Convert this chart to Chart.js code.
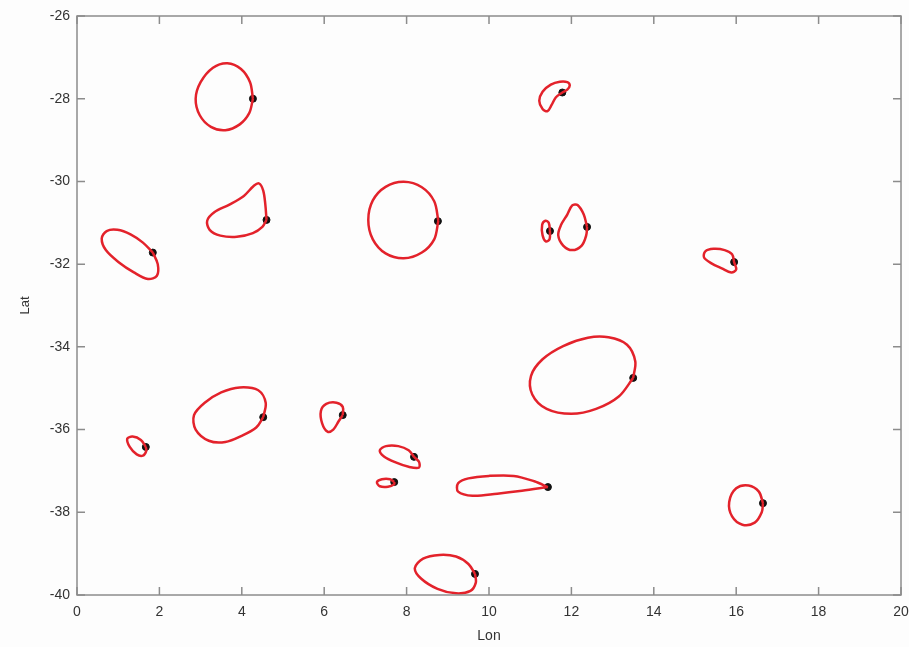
<!DOCTYPE html>
<html>
<head>
<meta charset="utf-8">
<script src="https://cdn.jsdelivr.net/npm/chart.js@4/dist/chart.umd.min.js"></script>
<style>
    html, body { margin: 0; padding: 0; background: #fdfdfd; }
    #wrap { width: 909px; height: 647px; }
</style>
</head>
<body>
<div id="wrap"><canvas id="loopChart"></canvas></div>
<script>
// tick values
const lonTicks = [0, 2, 4, 6, 8, 10, 12, 14, 16, 18, 20];
const latTicks = [-40, -38, -36, -34, -32, -30, -28, -26];

// black markers (start of each loop)
const dotLon = [4.27, 4.60, 1.84, 8.76, 11.78, 11.48, 12.38, 15.95, 13.50, 4.52, 1.67, 6.45, 8.18, 7.70, 11.43, 9.66, 16.65];
const dotLat = [-28.00, -30.93, -31.72, -30.96, -27.85, -31.20, -31.10, -31.95, -34.75, -35.70, -36.42, -35.65, -36.66, -37.27, -37.39, -39.49, -37.78];

// red closed curves, [lon, lat]
const loopA = [[4.27,-28.0],[4.20,-27.6],[3.98,-27.28],[3.65,-27.14],[3.30,-27.25],[3.00,-27.6],[2.88,-28.0],[2.98,-28.4],[3.25,-28.68],[3.60,-28.76],[3.95,-28.62],[4.18,-28.35],[4.27,-28.0]];
const loopB = [[4.60,-30.93],[4.57,-30.55],[4.52,-30.22],[4.42,-30.05],[4.30,-30.1],[4.05,-30.35],[3.70,-30.56],[3.34,-30.74],[3.16,-30.95],[3.22,-31.17],[3.48,-31.31],[3.88,-31.34],[4.27,-31.25],[4.50,-31.1],[4.60,-30.93]];
const loopC = [[1.84,-31.72],[1.60,-31.48],[1.30,-31.28],[0.98,-31.17],[0.72,-31.2],[0.60,-31.38],[0.70,-31.66],[1.02,-31.96],[1.38,-32.2],[1.72,-32.36],[1.94,-32.28],[1.96,-32.0],[1.84,-31.72]];
const loopD = [[8.77,-30.95],[8.67,-30.48],[8.37,-30.14],[7.93,-30.01],[7.49,-30.13],[7.18,-30.46],[7.07,-30.93],[7.18,-31.4],[7.49,-31.74],[7.93,-31.86],[8.37,-31.72],[8.67,-31.4],[8.77,-30.95]];
const loopE = [[11.78,-27.85],[11.90,-27.78],[11.96,-27.68],[11.90,-27.6],[11.72,-27.59],[11.50,-27.66],[11.30,-27.83],[11.22,-28.05],[11.30,-28.25],[11.42,-28.3],[11.52,-28.15],[11.62,-27.97],[11.78,-27.85]];
const loopF = [[11.48,-31.2],[11.45,-31.0],[11.37,-30.95],[11.29,-31.05],[11.30,-31.3],[11.38,-31.45],[11.47,-31.4],[11.48,-31.2]];
const loopG = [[12.38,-31.1],[12.30,-30.8],[12.15,-30.57],[12.02,-30.58],[11.90,-30.8],[11.75,-31.05],[11.68,-31.3],[11.80,-31.55],[12.02,-31.66],[12.25,-31.55],[12.36,-31.3],[12.38,-31.1]];
const loopH = [[15.95,-31.95],[15.90,-31.76],[15.72,-31.66],[15.45,-31.63],[15.25,-31.69],[15.22,-31.84],[15.40,-31.98],[15.65,-32.1],[15.88,-32.2],[16.00,-32.13],[15.95,-31.95]];
const loopI = [[13.50,-34.75],[13.55,-34.35],[13.35,-33.95],[12.90,-33.77],[12.40,-33.78],[11.80,-33.98],[11.30,-34.3],[11.02,-34.7],[11.05,-35.15],[11.40,-35.5],[12.00,-35.62],[12.60,-35.5],[13.15,-35.2],[13.50,-34.75]];
const loopJ = [[4.52,-35.7],[4.58,-35.35],[4.40,-35.05],[3.95,-34.98],[3.50,-35.1],[3.10,-35.35],[2.84,-35.65],[2.88,-36.0],[3.20,-36.27],[3.60,-36.3],[4.00,-36.15],[4.35,-35.95],[4.52,-35.7]];
const loopK = [[1.67,-36.42],[1.55,-36.25],[1.35,-36.17],[1.22,-36.22],[1.28,-36.42],[1.45,-36.6],[1.60,-36.63],[1.68,-36.52],[1.67,-36.42]];
const loopL = [[6.45,-35.65],[6.45,-35.45],[6.30,-35.35],[6.05,-35.38],[5.92,-35.55],[5.95,-35.85],[6.08,-36.05],[6.22,-36.0],[6.35,-35.8],[6.45,-35.65]];
const loopM = [[8.18,-36.66],[8.05,-36.5],[7.80,-36.4],[7.50,-36.4],[7.35,-36.5],[7.45,-36.65],[7.75,-36.8],[8.05,-36.9],[8.30,-36.92],[8.30,-36.78],[8.18,-36.66]];
const loopN = [[7.70,-37.27],[7.60,-37.2],[7.40,-37.2],[7.28,-37.27],[7.35,-37.37],[7.55,-37.38],[7.70,-37.32],[7.70,-37.27]];
const loopO = [[11.43,-37.39],[11.10,-37.25],[10.60,-37.12],[10.00,-37.12],[9.50,-37.18],[9.25,-37.3],[9.25,-37.5],[9.60,-37.6],[10.20,-37.55],[10.80,-37.48],[11.43,-37.39]];
const loopP = [[9.66,-39.49],[9.50,-39.25],[9.20,-39.07],[8.80,-39.03],[8.40,-39.12],[8.20,-39.35],[8.35,-39.6],[8.75,-39.85],[9.20,-39.96],[9.55,-39.9],[9.68,-39.7],[9.66,-39.49]];
const loopQ = [[16.65,-37.78],[16.55,-37.5],[16.30,-37.35],[16.00,-37.42],[15.83,-37.75],[15.90,-38.1],[16.15,-38.3],[16.45,-38.25],[16.62,-38.0],[16.65,-37.78]];

const loops = [loopA, loopB, loopC, loopD, loopE, loopF, loopG, loopH, loopI, loopJ, loopK, loopL, loopM, loopN, loopO, loopP, loopQ];

const axisGrey = '#8c8c8c';
const textColor = '#333';

// box + inward ticks like the original figure
const boxTicks = {
    id: 'boxTicks',
    afterDraw(chart) {
        const { ctx, chartArea, scales } = chart;
        const { left, right, top, bottom } = chartArea;
        const len = 8;
        ctx.save();
        ctx.strokeStyle = axisGrey;
        ctx.lineWidth = 1.5;
        ctx.strokeRect(left, top, right - left, bottom - top);
        ctx.beginPath();
        lonTicks.forEach(v => {
            const px = scales.x.getPixelForValue(v);
            ctx.moveTo(px, bottom); ctx.lineTo(px, bottom - len);
            ctx.moveTo(px, top); ctx.lineTo(px, top + len);
        });
        latTicks.forEach(v => {
            const py = scales.y.getPixelForValue(v);
            ctx.moveTo(left, py); ctx.lineTo(left + len, py);
            ctx.moveTo(right, py); ctx.lineTo(right - len, py);
        });
        ctx.stroke();
        ctx.restore();
    }
};

const datasets = loops.map(pts => ({
    type: 'line',
    data: pts.map(p => ({ x: p[0], y: p[1] })),
    borderColor: '#e3222b',
    borderWidth: 2.5,
    pointRadius: 0,
    tension: 0.33,
    fill: false
}));

datasets.push({
    type: 'scatter',
    data: dotLon.map((x, i) => ({ x: x, y: dotLat[i] })),
    backgroundColor: '#111',
    borderColor: '#111',
    pointRadius: 3.5
});

new Chart(document.getElementById('loopChart'), {
    type: 'scatter',
    data: { datasets: datasets },
    options: {
        responsive: true,
        maintainAspectRatio: false,
        animation: false,
        layout: { padding: { top: 16, right: 0, left: 0, bottom: 0 } },
        plugins: { legend: { display: false }, tooltip: { enabled: false } },
        scales: {
            x: {
                type: 'linear',
                min: 0, max: 20,
                afterBuildTicks: s => { s.ticks = lonTicks.map(v => ({ value: v })); },
                afterFit: s => { s.height = 52; s.paddingRight = 8; },
                grid: { display: false, drawTicks: false },
                border: { display: false },
                ticks: { padding: 9, color: textColor, font: { family: 'Liberation Sans', size: 14 } },
                title: { display: true, text: 'Lon', color: textColor, padding: { top: 0, bottom: 2 },
                         font: { family: 'Liberation Sans', size: 14 } }
            },
            y: {
                type: 'linear',
                min: -40, max: -26,
                afterBuildTicks: s => { s.ticks = latTicks.map(v => ({ value: v })); },
                afterFit: s => { s.width = 77; },
                grid: { display: false, drawTicks: false },
                border: { display: false },
                ticks: { padding: 7, color: textColor, font: { family: 'Liberation Sans', size: 14 } },
                title: { display: true, text: 'Lat', color: textColor, padding: { top: 18, bottom: 0 },
                         font: { family: 'Liberation Sans', size: 13 } }
            }
        }
    },
    plugins: [boxTicks]
});
</script>
</body>
</html>
